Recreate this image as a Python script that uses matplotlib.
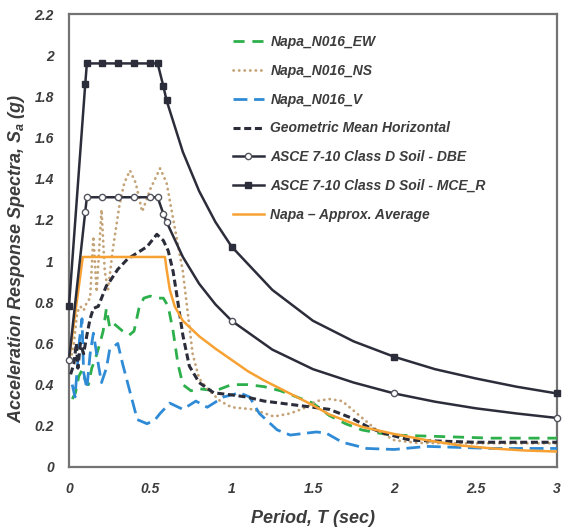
import matplotlib
matplotlib.use("Agg")
import matplotlib.pyplot as plt
from matplotlib.lines import Line2D

plt.rcParams['font.family'] = ['Liberation Sans', 'DejaVu Sans']
plt.rcParams['mathtext.fontset'] = 'custom'
plt.rcParams['mathtext.rm'] = 'Liberation Sans:italic:bold'
plt.rcParams['mathtext.it'] = 'Liberation Sans:italic:bold'
plt.rcParams['mathtext.bf'] = 'Liberation Sans:italic:bold'

# ---------------- data ----------------
ew_T = [0.02, 0.04, 0.06, 0.08, 0.1, 0.12, 0.14, 0.16, 0.19, 0.21, 0.23, 0.25, 0.27, 0.3, 0.33,
        0.37, 0.4, 0.43, 0.46, 0.5, 0.54, 0.58, 0.61, 0.64, 0.67, 0.7, 0.75, 0.8, 0.9, 1.0,
        1.1, 1.2, 1.3, 1.4, 1.5, 1.6, 1.7, 1.8, 1.9, 2.0, 2.2, 2.4, 2.6, 2.8, 3.0]
ew_Sa = [0.33, 0.36, 0.44, 0.47, 0.42, 0.40, 0.48, 0.52, 0.60, 0.66, 0.77, 0.68, 0.70, 0.68, 0.66,
         0.64, 0.66, 0.77, 0.82, 0.83, 0.82, 0.82, 0.78, 0.66, 0.50, 0.40, 0.37, 0.38, 0.37, 0.40,
         0.40, 0.39, 0.37, 0.34, 0.31, 0.25, 0.21, 0.18, 0.165, 0.155, 0.15, 0.145, 0.14, 0.14, 0.14]

ns_T = [0.01, 0.03, 0.05, 0.07, 0.09, 0.11, 0.13, 0.15, 0.17, 0.2, 0.22, 0.24, 0.27, 0.31, 0.34,
        0.375, 0.41, 0.45, 0.5, 0.56, 0.6, 0.63, 0.66, 0.7, 0.73, 0.76, 0.8, 0.85, 0.93, 1.0,
        1.13, 1.26, 1.36, 1.46, 1.52, 1.6, 1.68, 1.77, 1.89, 2.0, 2.14, 2.4, 2.7, 3.0]
ns_Sa = [0.52, 0.60, 0.75, 0.78, 0.76, 0.80, 0.82, 1.12, 0.85, 1.25, 0.95, 0.86, 1.06, 1.27, 1.38,
         1.44, 1.38, 1.24, 1.35, 1.45, 1.38, 1.25, 1.12, 0.95, 0.75, 0.55, 0.43, 0.38, 0.32, 0.29,
         0.28, 0.245, 0.26, 0.29, 0.32, 0.33, 0.32, 0.26, 0.18, 0.13, 0.117, 0.115, 0.115, 0.115]

v_T = [0.02, 0.037, 0.05, 0.065, 0.08, 0.09, 0.11, 0.13, 0.15, 0.18, 0.2, 0.23, 0.25, 0.3, 0.33,
       0.36, 0.42, 0.48, 0.53, 0.56, 0.62, 0.7, 0.78, 0.85, 0.95, 1.05, 1.11, 1.17, 1.28, 1.36,
       1.52, 1.58, 1.68, 1.83, 2.0, 2.2, 2.4, 2.6, 2.8, 3.0]
v_Sa = [0.40, 0.34, 0.47, 0.62, 0.72, 0.46, 0.38, 0.55, 0.65, 0.50, 0.41, 0.48, 0.57, 0.60, 0.50,
        0.41, 0.23, 0.21, 0.23, 0.26, 0.31, 0.28, 0.32, 0.29, 0.34, 0.36, 0.34, 0.26, 0.18, 0.155,
        0.17, 0.165, 0.12, 0.09, 0.085, 0.10, 0.095, 0.09, 0.09, 0.09]

gm_T = [0.01, 0.03, 0.045, 0.055, 0.07, 0.09, 0.11, 0.13, 0.15, 0.18, 0.21, 0.23, 0.25, 0.3, 0.36,
        0.42, 0.48, 0.54, 0.58, 0.61, 0.64, 0.66, 0.7, 0.74, 0.8, 0.89, 1.0, 1.09, 1.2, 1.3,
        1.4, 1.5, 1.6, 1.73, 1.85, 1.93, 2.1, 2.3, 2.5, 2.75, 3.0]
gm_Sa = [0.45, 0.50, 0.60, 0.48, 0.60, 0.55, 0.64, 0.72, 0.77, 0.78, 0.84, 0.88, 0.90, 0.96, 1.01,
         1.04, 1.07, 1.13, 1.10, 1.05, 0.95, 0.85, 0.64, 0.49, 0.41, 0.36, 0.35, 0.34, 0.32, 0.31,
         0.30, 0.29, 0.28, 0.24, 0.19, 0.165, 0.13, 0.125, 0.12, 0.12, 0.12]

asce_T = [0, 0.1, 0.11, 0.2, 0.3, 0.4, 0.5, 0.545, 0.58, 0.6, 0.7, 0.8, 0.9, 1.0, 1.25, 1.5,
          1.75, 2.0, 2.25, 2.5, 2.75, 3.0]
dbe_Sa = [0.52, 1.24, 1.31, 1.31, 1.31, 1.31, 1.31, 1.31, 1.23, 1.19, 1.02, 0.89, 0.79, 0.71,
          0.57, 0.475, 0.41, 0.357, 0.317, 0.285, 0.26, 0.238]
mce_Sa = [0.78, 1.86, 1.96, 1.96, 1.96, 1.96, 1.96, 1.96, 1.85, 1.78, 1.53, 1.34, 1.19, 1.07,
          0.86, 0.71, 0.61, 0.535, 0.475, 0.43, 0.39, 0.357]
asce_marked = [0, 1, 2, 3, 4, 5, 6, 7, 8, 9, 13, 17, 21]

avg_T = [0, 0.085, 0.59, 0.6, 0.62, 0.65, 0.7, 0.8, 0.9, 1.0, 1.1, 1.2, 1.3, 1.4, 1.5, 1.6,
         1.8, 2.0, 2.2, 2.4, 2.6, 2.8, 3.0]
avg_Sa = [0.52, 1.02, 1.02, 0.96, 0.86, 0.78, 0.71, 0.635, 0.575, 0.52, 0.465, 0.42, 0.38,
          0.34, 0.30, 0.255, 0.195, 0.16, 0.13, 0.105, 0.09, 0.08, 0.075]

labels = ["Napa_N016_EW", "Napa_N016_NS", "Napa_N016_V", "Geometric Mean Horizontal",
          "ASCE 7-10 Class D Soil - DBE", "ASCE 7-10 Class D Soil - MCE_R", "Napa \u2013 Approx. Average"]
x_ticks = [0, 0.5, 1, 1.5, 2, 2.5, 3]
x_ticklabels = ["0", "0.5", "1", "1.5", "2", "2.5", "3"]
y_ticks = [0, 0.2, 0.4, 0.6, 0.8, 1.0, 1.2, 1.4, 1.6, 1.8, 2.0, 2.2]
y_ticklabels = ["0", "0.2", "0.4", "0.6", "0.8", "1", "1.2", "1.4", "1.6", "1.8", "2", "2.2"]

# ---------------- style ----------------
c_green = '#2db04b'
c_tan = '#c4a377'
c_blue = '#2f8bd6'
c_dark = '#2c2d3a'
c_orange = '#f7a133'
c_text = '#3c3c3c'

ns_dash = (0.1, 1.9)

fig = plt.figure(figsize=(5.71, 5.27), dpi=100)
ax = fig.add_axes([0.1208, 0.1139, 0.8547, 0.8595])

ax.plot(ew_T, ew_Sa, color=c_green, lw=2.0, dashes=(4, 2.8), dash_capstyle='butt', zorder=3)
ax.plot(ns_T, ns_Sa, color=c_tan, lw=2.0, dashes=ns_dash, dash_capstyle='round', zorder=3)
ax.plot(v_T, v_Sa, color=c_blue, lw=2.0, dashes=(5, 2.4), zorder=3)
ax.plot(gm_T, gm_Sa, color=c_dark, lw=2.2, dashes=(2.3, 1.2), zorder=4)
ax.plot(asce_T, dbe_Sa, color=c_dark, lw=1.8, marker='o', markersize=4.5,
        markerfacecolor='white', markeredgecolor='#555560', markeredgewidth=1.0,
        markevery=asce_marked, clip_on=False, zorder=5)
ax.plot(asce_T, mce_Sa, color=c_dark, lw=1.8, marker='s', markersize=4.5,
        markerfacecolor=c_dark, markeredgecolor=c_dark, markevery=asce_marked,
        clip_on=False, zorder=5)
ax.plot(avg_T, avg_Sa, color=c_orange, lw=1.8, zorder=4)

ax.set_xlim(0, 3)
ax.set_ylim(0, 2.2)
tick_font = dict(family='Liberation Sans', weight='bold', style='italic', size=10)
ax.set_xticks(x_ticks)
ax.set_xticklabels(x_ticklabels, fontdict=tick_font, color=c_text)
ax.set_yticks(y_ticks)
ax.set_yticklabels(y_ticklabels, fontdict=tick_font, color=c_text)
ax.tick_params(length=0, pad=11)

for sp in ax.spines.values():
    sp.set_color('#737373')
    sp.set_linewidth(1.6)

lab_font = dict(family='Liberation Sans', weight='bold', style='italic', size=13)
ax.set_xlabel("Period, T (sec)", fontdict=lab_font, color=c_text)
ax.xaxis.set_label_coords(0.5, -0.095)
ax.set_ylabel("Acceleration Response Spectra, $S_a$ (g)", fontdict=lab_font, color=c_text)
ax.yaxis.set_label_coords(-0.085, 0.46)

handles = [
    Line2D([], [], color=c_green, lw=2.0, dashes=(4, 2.8)),
    Line2D([], [], color=c_tan, lw=2.0, dashes=ns_dash, dash_capstyle='round'),
    Line2D([], [], color=c_blue, lw=2.0, dashes=(5, 2.4)),
    Line2D([], [], color=c_dark, lw=2.2, dashes=(2.3, 1.2)),
    Line2D([], [], color=c_dark, lw=1.8, marker='o', markersize=4.5, markerfacecolor='white',
           markeredgecolor='#555560', markeredgewidth=1.0),
    Line2D([], [], color=c_dark, lw=1.8, marker='s', markersize=4.5, markerfacecolor=c_dark),
    Line2D([], [], color=c_orange, lw=1.8),
]
leg = ax.legend(handles, labels, loc='upper left', bbox_to_anchor=(0.336, 0.953),
                frameon=False, handlelength=2.2, handletextpad=0.5, labelspacing=1.06,
                borderaxespad=0, borderpad=0,
                prop=dict(family='Liberation Sans', weight='bold', style='italic', size=10))
for t in leg.get_texts():
    t.set_color(c_text)

fig.savefig("out.png", dpi=100)
